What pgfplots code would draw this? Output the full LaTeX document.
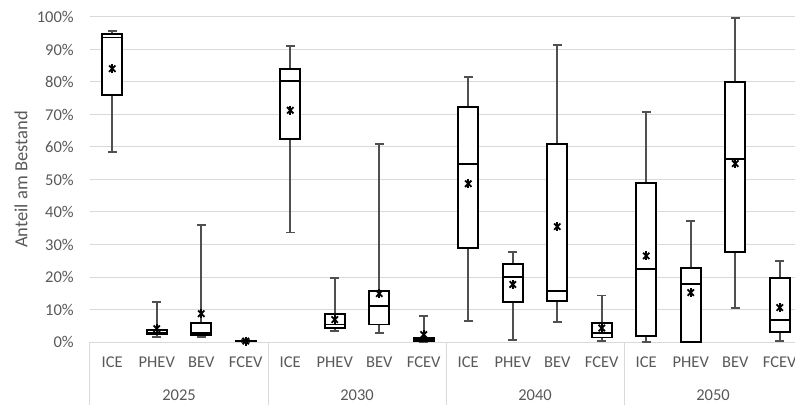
\documentclass[border=0pt]{standalone}
\usepackage{fontspec}
\setmainfont{Carlito}
\usepackage{pgfplots}
\pgfplotsset{compat=1.18}
\usepgfplotslibrary{statistics}
\definecolor{txt}{HTML}{595959}
\definecolor{grd}{HTML}{D9D9D9}
\definecolor{wsk}{HTML}{505050}
\pgfplotsset{
 boxplot/draw direction=y,
 boxplot/every box/.style={draw=black, fill=white, line width=1.9bp},
 boxplot/every median/.style={draw=black, line width=1.9bp},
 boxplot/every whisker/.style={draw=wsk, line width=1.9bp},
}
\newcommand{\bx}[6]{%
 \addplot[black, solid, boxplot prepared={draw position=#1, lower whisker=#2, lower quartile=#3, median=#4, upper quartile=#5, upper whisker=#6, box extend=0.45, whisker extend=0.2}] coordinates {};}
\begin{document}
\fontsize{16bp}{19bp}\selectfont
\begin{tikzpicture}
\begin{axis}[
 scale only axis, width=712bp, height=325bp,
 xmin=-0.5, xmax=15.5, ymin=0, ymax=100,
 clip=false,
 axis line style={draw=none},
 major tick length=0pt,
 ytick={0,10,...,100},
 yticklabels={0\%,10\%,20\%,30\%,40\%,50\%,60\%,70\%,80\%,90\%,100\%},
 ymajorgrids, grid style={grd, line width=1bp},
 xtick={0,...,15},
 xticklabels={ICE,PHEV,BEV,FCEV,ICE,PHEV,BEV,FCEV,ICE,PHEV,BEV,FCEV,ICE,PHEV,BEV,FCEV},
 tick label style={txt, font=\fontsize{16.5bp}{19bp}\selectfont},
 xticklabel style={yshift=-9bp},
 yticklabel style={xshift=-10.7bp},
]
\coordinate (O) at (rel axis cs:0,0);
% 2025
\bx{0}{58.5}{75.9}{93.7}{94.9}{95.7}
\bx{1}{1.5}{2.3}{2.9}{3.6}{12.3}
\bx{2}{1.5}{2.1}{2.9}{5.8}{35.9}
\bx{3}{0.0}{0.2}{0.3}{0.4}{0.6}
% 2030
\bx{4}{33.7}{62.4}{80.2}{84.1}{91.1}
\bx{5}{3.4}{4.4}{5.4}{8.6}{19.8}
\bx{6}{2.9}{5.4}{11.0}{15.7}{60.9}
\bx{7}{0.0}{0.4}{0.8}{1.2}{8.0}
% 2040
\bx{8}{6.4}{29.0}{54.8}{72.2}{81.4}
\bx{9}{0.5}{12.3}{20.0}{24.1}{27.7}
\bx{10}{6.2}{12.7}{15.7}{60.9}{91.4}
\bx{11}{0.3}{1.4}{2.8}{5.8}{14.3}
% 2050
\bx{12}{0.0}{1.8}{22.6}{48.9}{70.9}
\bx{13}{0.0}{0.0}{17.8}{22.8}{37.2}
\bx{14}{10.5}{27.7}{56.2}{79.9}{99.8}
\bx{15}{0.3}{3.1}{6.9}{19.8}{24.9}
% means
\pgfplotstableread{
x y
0 84.1
1 4.1
2 8.7
3 0.3
4 71.3
5 6.9
6 14.9
7 2.3
8 48.7
9 17.7
10 35.5
11 4.3
12 26.5
13 15.2
14 54.9
15 10.6
}\means
\addplot[only marks, mark=x, mark size=4.5bp, black, mark options={line width=1.8bp}] table[x=x,y=y] {\means};
\addplot[only marks, mark=|, mark size=4.5bp, black, mark options={line width=1.6bp}] table[x=x,y=y] {\means};
% group separators
\draw[grd, line width=1bp] (axis cs:-0.5,0) -- ([yshift=-63bp]axis cs:-0.5,0);
\draw[grd, line width=1bp] (axis cs:3.5,0) -- ([yshift=-63bp]axis cs:3.5,0);
\draw[grd, line width=1bp] (axis cs:7.5,0) -- ([yshift=-63bp]axis cs:7.5,0);
\draw[grd, line width=1bp] (axis cs:11.5,0) -- ([yshift=-63bp]axis cs:11.5,0);
\draw[grd, line width=1bp] (axis cs:15.5,0) -- ([yshift=-63bp]axis cs:15.5,0);
% group labels
\node[txt, anchor=center, font=\fontsize{16.5bp}{19bp}\selectfont] at ([yshift=-53bp]axis cs:1.5,0) {2025};
\node[txt, anchor=center, font=\fontsize{16.5bp}{19bp}\selectfont] at ([yshift=-53bp]axis cs:5.5,0) {2030};
\node[txt, anchor=center, font=\fontsize{16.5bp}{19bp}\selectfont] at ([yshift=-53bp]axis cs:9.5,0) {2040};
\node[txt, anchor=center, font=\fontsize{16.5bp}{19bp}\selectfont] at ([yshift=-53bp]axis cs:13.5,0) {2050};
\node[txt, rotate=90, anchor=center, font=\fontsize{18.5bp}{22bp}\selectfont] at ([xshift=-69bp]rel axis cs:0,0.5) {Anteil am Bestand};
\end{axis}
\pgfresetboundingbox
\path[use as bounding box] ([shift={(-90bp,-63bp)}]O) rectangle ([shift={(705bp,342bp)}]O);
\end{tikzpicture}
\end{document}
